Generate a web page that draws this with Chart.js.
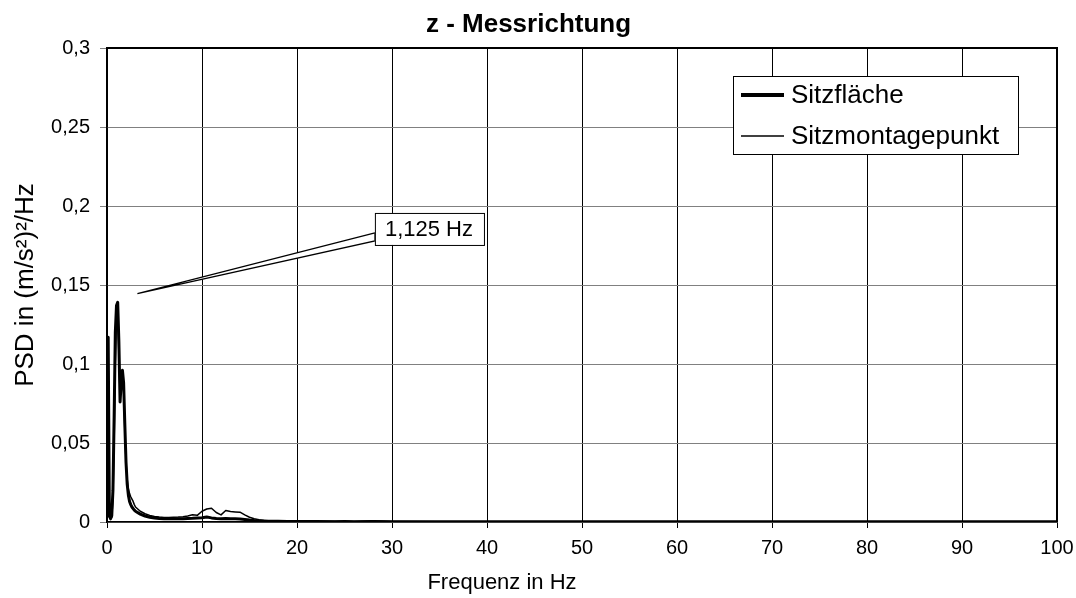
<!DOCTYPE html>
<html lang="de">
<head>
<meta charset="utf-8">
<title>z - Messrichtung</title>
<script src="https://cdn.jsdelivr.net/npm/chart.js@4.4.1/dist/chart.umd.min.js"></script>
<style>
  html, body { margin: 0; padding: 0; background: #ffffff; }
  #wrap { width: 1076px; height: 598px; }
</style>
</head>
<body>
<div id="wrap"><canvas id="psd" width="1076" height="598"></canvas></div>
<script>
// Frequenzstützstellen in Hz
const frequencies = [
  0, 0.125, 0.25, 0.375, 0.5, 0.625, 0.75, 0.875, 1, 1.125, 1.25, 1.375, 1.5,
  1.625, 1.75, 1.875, 2, 2.125, 2.25, 2.375, 2.5, 2.625, 2.75, 2.875, 3,
  3.5, 4, 4.5, 5, 5.5, 6, 6.5, 7, 7.5, 8, 8.5, 9, 9.5, 10, 10.5, 11, 11.5, 12,
  12.5, 13, 13.5, 14, 14.5, 15, 15.5, 16, 16.5, 17,
  18, 19, 20, 22, 24, 25, 26, 28, 30, 35, 40, 45, 50, 55, 60, 65, 70, 75, 80,
  85, 90, 95, 100
];

// PSD Sitzfläche in (m/s²)²/Hz
const psdSitzflaeche = [
  0.003, 0.117, 0.004, 0.002, 0.004, 0.02, 0.066, 0.12, 0.137, 0.139, 0.114, 0.076, 0.089,
  0.096, 0.088, 0.062, 0.038, 0.024, 0.017, 0.013, 0.011, 0.0095, 0.0085, 0.0075, 0.0068,
  0.005, 0.0038, 0.003, 0.0025, 0.0022, 0.002, 0.002, 0.002, 0.002, 0.0021, 0.0022, 0.0023, 0.0025, 0.0027, 0.0031, 0.0026, 0.0022, 0.002,
  0.0022, 0.0021, 0.002, 0.0019, 0.0016, 0.0012, 0.0009, 0.0007, 0.0006, 0.0005,
  0.0004, 0.0003, 0.0003, 0.0003, 0.0002, 0.0003, 0.0002, 0.0003, 0.0002, 0.0001, 0.0001, 0.0001, 0.0001, 0.0001, 0.0001, 0.0001, 0.0001, 0.0001, 0.0001,
  0.0001, 0.0001, 0.0001, 0.0001
];

// PSD Sitzmontagepunkt in (m/s²)²/Hz
const psdSitzmontagepunkt = [
  0.001, 0.112, 0.003, 0.002, 0.003, 0.014, 0.05, 0.1, 0.128, 0.131, 0.106, 0.08, 0.084,
  0.091, 0.083, 0.058, 0.038, 0.027, 0.021, 0.018, 0.016, 0.0145, 0.013, 0.011, 0.0095,
  0.0068, 0.0052, 0.0042, 0.0035, 0.0031, 0.0029, 0.0029, 0.003, 0.0031, 0.0033, 0.0038, 0.0046, 0.0042, 0.0068, 0.0082, 0.0087, 0.006, 0.0045,
  0.0073, 0.0066, 0.0064, 0.0062, 0.0045, 0.003, 0.0021, 0.0014, 0.001, 0.0008,
  0.0006, 0.0005, 0.0005, 0.0004, 0.0004, 0.0004, 0.0003, 0.0006, 0.0003, 0.0002, 0.0002, 0.0002, 0.0002, 0.0001, 0.0001, 0.0001, 0.0001, 0.0001, 0.0001,
  0.0001, 0.0001, 0.0001, 0.0001
];

const seriesNames = ['Sitzfläche', 'Sitzmontagepunkt'];
const chartTitle = 'z - Messrichtung';
const xTitle = 'Frequenz in Hz';
const yTitle = 'PSD in (m/s²)²/Hz';

// Beschriftung der Resonanzspitze
const peakLabel = { text: '1,125 Hz', tipHz: 3.2, tipPsd: 0.1445, boxHz: 28.2, boxTopPsd: 0.1956 };

const FONT = '"Liberation Sans", Arial, Helvetica, sans-serif';

const toPoints = (values) => frequencies.map((f, i) => ({ x: f, y: values[i] }));

// Legende als Kasten innerhalb der Zeichenfläche
const boxLegend = {
  id: 'boxLegend',
  afterDraw(chart) {
    const { ctx, chartArea } = chart;
    const left = chartArea.right - 324;
    const top = chartArea.top + 28;
    const w = 285, h = 78;
    ctx.save();
    ctx.fillStyle = '#ffffff';
    ctx.fillRect(left, top, w, h);
    ctx.strokeStyle = '#000000';
    ctx.lineWidth = 1;
    ctx.strokeRect(left + 0.5, top + 0.5, w, h);
    ctx.font = '26px ' + FONT;
    ctx.textBaseline = 'middle';
    ctx.fillStyle = '#000000';
    chart.data.datasets.forEach((ds, i) => {
      const y = top + 19 + i * 41;
      ctx.beginPath();
      ctx.lineWidth = ds.borderWidth + (i === 0 ? 1 : 0);
      ctx.moveTo(left + 8, y);
      ctx.lineTo(left + 51, y);
      ctx.stroke();
      ctx.fillText(ds.label, left + 58, y + 1);
    });
    ctx.restore();
  }
};

// Rahmen oben und rechts
const plotFrame = {
  id: 'plotFrame',
  beforeDatasetsDraw(chart) {
    const { ctx, chartArea } = chart;
    ctx.save();
    ctx.strokeStyle = '#000000';
    ctx.lineWidth = 2;
    ctx.beginPath();
    ctx.moveTo(chartArea.left, chartArea.top);
    ctx.lineTo(chartArea.right, chartArea.top);
    ctx.lineTo(chartArea.right, chartArea.bottom);
    ctx.stroke();
    ctx.restore();
  }
};

// Achsentitel der Frequenzachse
const xAxisTitle = {
  id: 'xAxisTitle',
  afterDraw(chart) {
    const { ctx, chartArea } = chart;
    ctx.save();
    ctx.font = '22px ' + FONT;
    ctx.fillStyle = '#000000';
    ctx.textAlign = 'center';
    ctx.textBaseline = 'middle';
    ctx.fillText(xTitle, chartArea.left + 395, chartArea.bottom + 61);
    ctx.restore();
  }
};

// Legendenfahne mit keilförmigem Zeiger
const calloutLabel = {
  id: 'calloutLabel',
  afterDraw(chart) {
    const { ctx } = chart;
    const xs = chart.scales.x, ys = chart.scales.y;
    const tipX = xs.getPixelForValue(peakLabel.tipHz);
    const tipY = ys.getPixelForValue(peakLabel.tipPsd);
    const bx = xs.getPixelForValue(peakLabel.boxHz);
    const by = ys.getPixelForValue(peakLabel.boxTopPsd);
    ctx.save();
    ctx.font = '22px ' + FONT;
    const tw = ctx.measureText(peakLabel.text).width;
    const bw = tw + 21, bh = 32;
    ctx.strokeStyle = '#000000';
    ctx.fillStyle = '#ffffff';
    ctx.lineWidth = 1.2;
    ctx.beginPath();
    ctx.moveTo(bx, by + 20);
    ctx.lineTo(tipX, tipY);
    ctx.lineTo(bx, by + 28);
    ctx.closePath();
    ctx.fill();
    ctx.stroke();
    ctx.fillRect(bx, by, bw, bh);
    ctx.lineWidth = 1;
    ctx.strokeRect(bx + 0.5, by + 0.5, bw, bh);
    ctx.fillStyle = '#000000';
    ctx.textBaseline = 'middle';
    ctx.fillText(peakLabel.text, bx + 10, by + bh / 2 + 1);
    ctx.restore();
  }
};

const yTickText = (v) => v === 0 ? '0' : v.toFixed(2).replace(/0$/, '').replace('.', ',');

new Chart(document.getElementById('psd'), {
  type: 'line',
  data: {
    datasets: [
      {
        label: seriesNames[0],
        data: toPoints(psdSitzflaeche),
        borderColor: '#000000',
        borderWidth: 3,
        borderJoinStyle: 'round',
        pointRadius: 0,
        tension: 0
      },
      {
        label: seriesNames[1],
        data: toPoints(psdSitzmontagepunkt),
        borderColor: '#000000',
        borderWidth: 1.5,
        borderJoinStyle: 'round',
        pointRadius: 0,
        tension: 0
      }
    ]
  },
  options: {
    responsive: false,
    animation: false,
    layout: { padding: { left: 0, right: 19, top: 0, bottom: 0 } },
    plugins: {
      legend: { display: false },
      tooltip: { enabled: false },
      title: {
        display: true,
        text: chartTitle,
        color: '#000000',
        font: { family: FONT, size: 26, weight: 'bold', lineHeight: 1.2 },
        padding: { top: 9, bottom: 7.8 }
      }
    },
    scales: {
      x: {
        type: 'linear',
        min: 0,
        max: 100,
        ticks: {
          stepSize: 10,
          color: '#000000',
          font: { family: FONT, size: 20 },
          padding: 8,
          maxRotation: 0
        },
        grid: { color: '#000000', lineWidth: 1, tickLength: 6, tickColor: '#000000' },
        border: { color: '#000000', width: 1.5 },
        title: { display: false },
        afterFit(scale) {
          scale.height = 76;
          scale.paddingRight = 19;
        }
      },
      y: {
        min: 0,
        max: 0.3,
        ticks: {
          stepSize: 0.05,
          color: '#000000',
          font: { family: FONT, size: 20 },
          padding: 10,
          callback: yTickText
        },
        grid: { color: '#808080', lineWidth: 1, tickLength: 7, tickColor: '#808080' },
        border: { color: '#000000', width: 1.5 },
        title: {
          display: true,
          text: yTitle,
          color: '#000000',
          font: { family: FONT, size: 26 },
          padding: { top: 10, bottom: 0 }
        },
        afterFit(scale) { scale.width = 107; }
      }
    }
  },
  plugins: [plotFrame, boxLegend, calloutLabel, xAxisTitle]
});
</script>
</body>
</html>
